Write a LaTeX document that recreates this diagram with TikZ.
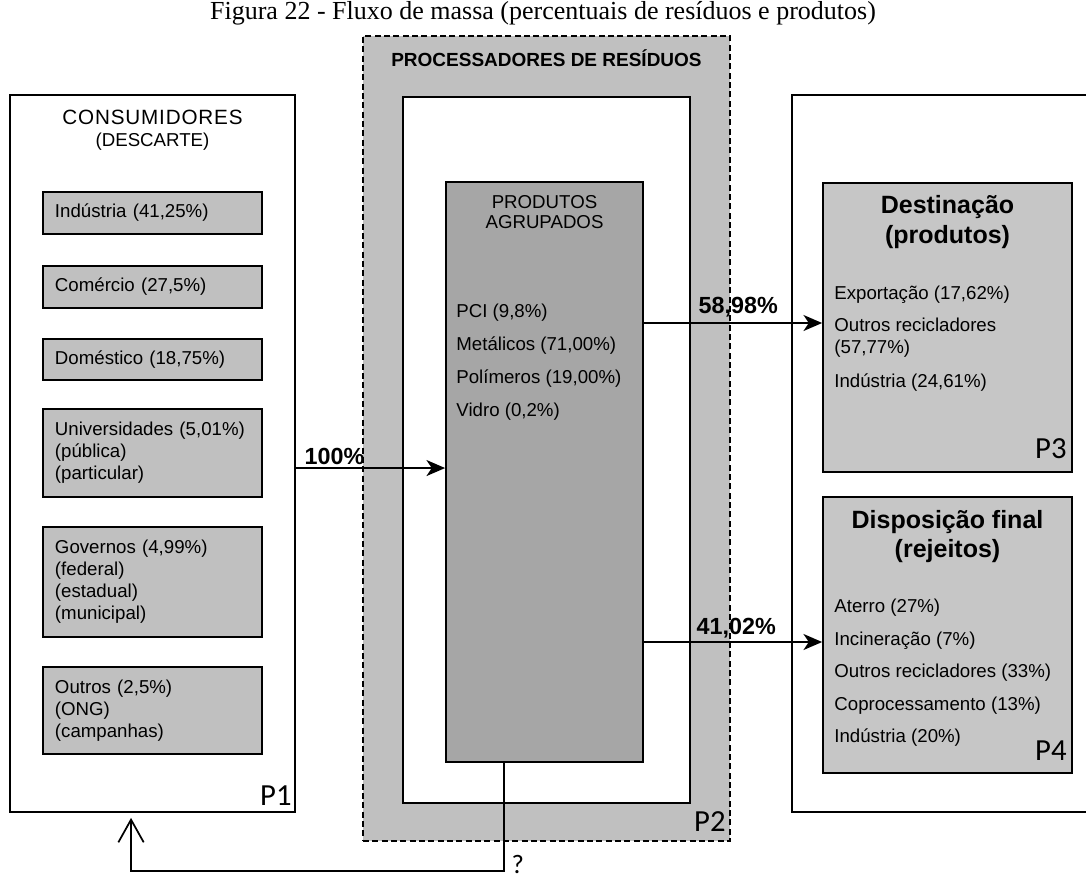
\documentclass[tikz,border=0pt]{standalone}
\usepackage{fontspec}
\setmainfont{Liberation Sans}
\newfontfamily\captionfont{Liberation Serif}
\newfontfamily\tagfont{Carlito}
\usetikzlibrary{arrows.meta}

\definecolor{framegray}{HTML}{C0C0C0}
\definecolor{itemgray}{HTML}{C0C0C0}
\definecolor{coregray}{HTML}{A6A6A6}
\definecolor{destgray}{HTML}{C6C6C6}

\tikzset{
  box/.style={draw, line width=1.3pt, rectangle, inner sep=0pt},
  itembox/.style={box, fill=itemgray, text width=146.25pt, inner xsep=9pt,
    inner ysep=0pt, align=left, font=\fontsize{14}{16.5}\selectfont},
  plain/.style={inner sep=0pt, font=\fontsize{14}{16.5}\selectfont},
  flow/.style={line width=1.3pt, -{Stealth[length=14pt,width=12pt,inset=4pt]}},
  pct/.style={font=\bfseries\fontsize{17.5}{20}\selectfont, inner sep=0pt,
    anchor=base west},
  ptag/.style={font=\tagfont\fontsize{23}{26}\selectfont, inner sep=0pt,
    anchor=base east},
  heading/.style={inner sep=0pt, align=center,
    font=\bfseries\fontsize{18.75}{22.5}\selectfont},
}

\begin{document}
\begin{tikzpicture}[x=0.75pt, y=-0.75pt]
\useasboundingbox (0,0) rectangle (1086,879);

% caption
\node[font=\captionfont\fontsize{19.5}{22}\selectfont, inner sep=0pt] (title)
  at (543,13) {Figura 22 - Fluxo de massa (percentuais de resíduos e produtos)};

% P1: consumers
\node[box, fill=white, minimum width=213.75pt, minimum height=537.75pt] (p1)
  at (152.5,453.5) {};
\node[plain, align=center, yshift=-27.4pt] (p1head) at (p1.north)
  {{\fontsize{15.5}{18.75}\selectfont\addfontfeature{LetterSpace=4}CONSUMIDORES}\\(DESCARTE)};
\node[itembox, minimum height=31.5pt]  (ind) at (152.5,213)   {Indústria (41,25\%)};
\node[itembox, minimum height=31.5pt]  (com) at (152.5,287)   {Comércio (27,5\%)};
\node[itembox, minimum height=30.75pt] (dom) at (152.5,359.5) {Doméstico (18,75\%)};
\node[itembox, minimum height=66pt]    (uni) at (152.5,453)
  {Universidades (5,01\%)\\(pública)\\(particular)};
\node[itembox, minimum height=82.5pt]  (gov) at (152.5,582)
  {Governos (4,99\%)\\(federal)\\(estadual)\\(municipal)};
\node[itembox, minimum height=65.25pt] (out) at (152.5,710.5)
  {Outros (2,5\%)\\(ONG)\\(campanhas)};
\node[ptag, xshift=-3pt, yshift=5.25pt] (p1tag) at (p1.south east) {P1};

% P2: waste processors
\node[box, dash pattern=on 4.5pt off 2.5pt, fill=framegray,
  minimum width=275.25pt, minimum height=603.75pt] (p2) at (546.5,438.5) {};
\node[inner sep=0pt, font=\bfseries\fontsize{14.25}{16}\selectfont, yshift=-17.25pt]
  (p2head) at (p2.north) {PROCESSADORES DE RESÍDUOS};
\node[box, fill=white, minimum width=215.25pt, minimum height=529.5pt] (inner)
  at (546.5,450) {};
\node[box, fill=coregray, minimum width=147.75pt, minimum height=435pt] (core)
  at (544.5,472) {};
\node[plain, align=center, font=\fontsize{14}{15}\selectfont, yshift=-23.25pt]
  (corehead) at (core.north) {PRODUTOS\\AGRUPADOS};
\node[plain, align=left, anchor=west, font=\fontsize{14}{24.75}\selectfont,
  xshift=8.25pt, yshift=82.1pt] (coreitems) at (core.west)
  {PCI (9,8\%)\\Metálicos (71,00\%)\\Polímeros (19,00\%)\\Vidro (0,2\%)};
\node[ptag, xshift=-3.75pt, yshift=7.5pt] (p2tag) at (p2.south east) {P2};

% right-hand frame, open beyond the page edge
\draw[line width=1.3pt] (1090,95) -| (792,812) -- (1090,812);

% P3: destination of products
\node[box, fill=destgray, minimum width=186.75pt, minimum height=216.75pt] (p3)
  at (947.5,327.5) {};
\node[heading, yshift=-30pt] (p3head) at (p3.north) {Destinação\\(produtos)};
\node[plain, align=left, anchor=west, font=\fontsize{14}{16}\selectfont,
  xshift=9pt, yshift=-8.6pt] (p3items) at (p3.west)
  {Exportação (17,62\%)\\[8pt]Outros recicladores\\(57,77\%)\\[10pt]Indústria (24,61\%)};
\node[ptag, xshift=-4.5pt, yshift=10.5pt] (p3tag) at (p3.south east) {P3};

% P4: final disposal of rejects
\node[box, fill=destgray, minimum width=186.75pt, minimum height=207pt] (p4)
  at (947.5,635) {};
\node[heading, font=\bfseries\fontsize{18.75}{21.75}\selectfont, yshift=-30.4pt]
  (p4head) at (p4.north) {Disposição final\\(rejeitos)};
\node[plain, align=left, anchor=west, font=\fontsize{14}{24.4}\selectfont,
  xshift=9pt, yshift=-28.5pt] (p4items) at (p4.west)
  {Aterro (27\%)\\Incineração (7\%)\\Outros recicladores (33\%)\\Coprocessamento (13\%)\\Indústria (20\%)};
\node[ptag, xshift=-4.5pt, yshift=9.75pt] (p4tag) at (p4.south east) {P4};

% mass flows
\draw[flow] ([yshift=-10.9pt]p1.east) -- ([yshift=-10.9pt]p1.east -| core.west)
  node[pct, pos=0, xshift=6pt, yshift=3pt] (l100) {100\%};
\draw[flow] ([yshift=111.75pt]core.east) -- ([yshift=111.75pt]core.east -| p3.west)
  node[pct, pos=0, xshift=40.5pt, yshift=7.5pt] (l5898) {58,98\%};
\draw[flow] ([yshift=-127.5pt]core.east) -- ([yshift=-127.5pt]core.east -| p4.west)
  node[pct, pos=0, xshift=39pt, yshift=5.5pt] (l4102) {41,02\%};

% return flow back to the consumers
\draw[line width=1.3pt, -{Straight Barb[length=17pt,width=19pt]}]
  ([xshift=-30.4pt]core.south) -- ++(0,108)
  node[anchor=west, inner sep=0pt, xshift=5pt, yshift=5pt,
    font=\tagfont\fontsize{20}{22}\selectfont] (qmark) {?}
  -| ([xshift=-16.1pt,yshift=-3.75pt]p1.south);
\end{tikzpicture}
\end{document}
